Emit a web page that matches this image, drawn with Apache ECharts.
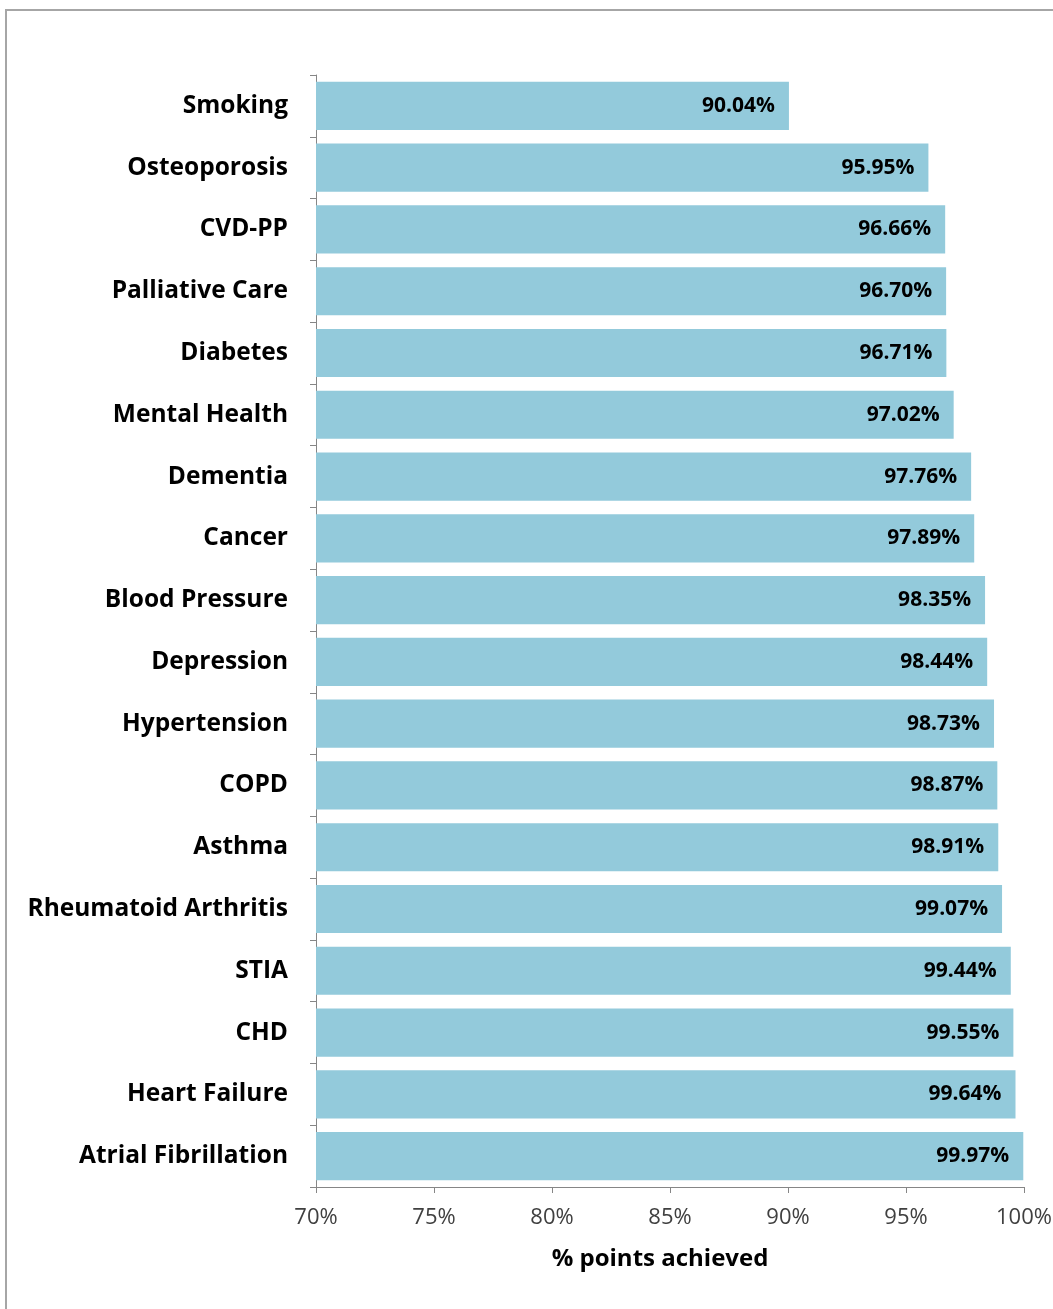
<!DOCTYPE html>
<html>
<head>
<meta charset="utf-8">
<script src="https://cdn.jsdelivr.net/npm/echarts@6/dist/echarts.min.js"></script>
<style>
  html, body { margin: 0; padding: 0; background: #fff; }
  #chart { width: 1053px; height: 1309px; }
</style>
</head>
<body>
<div id="chart"></div>
<script>
// domains, top to bottom
const domains = [
  'Smoking', 'Osteoporosis', 'CVD-PP', 'Palliative Care', 'Diabetes',
  'Mental Health', 'Dementia', 'Cancer', 'Blood Pressure', 'Depression',
  'Hypertension', 'COPD', 'Asthma', 'Rheumatoid Arthritis', 'STIA',
  'CHD', 'Heart Failure', 'Atrial Fibrillation'
]
const pointsAchieved = [
  90.04, 95.95, 96.66, 96.70, 96.71,
  97.02, 97.76, 97.89, 98.35, 98.44,
  98.73, 98.87, 98.91, 99.07, 99.44,
  99.55, 99.64, 99.97
]
const xTicks = [70, 75, 80, 85, 90, 95, 100]

const chart = echarts.init(document.getElementById('chart'))
const font = '"Open Sans", "DejaVu Sans", sans-serif'

chart.setOption({
  backgroundColor: '#fff',
  animation: false,
  grid: {
    left: 316, right: 29, top: 75, bottom: 122,
    containLabel: false, outerBoundsMode: 'none'
  },
  graphic: [
    {
      type: 'rect',
      shape: { x: 6, y: 10, width: 1100, height: 1400 },
      style: { fill: 'none', stroke: '#a6a6a6', lineWidth: 2 },
      silent: true
    }
  ],
  xAxis: {
    type: 'value',
    min: xTicks[0],
    max: xTicks[xTicks.length - 1],
    interval: 5,
    name: '% points achieved',
    nameLocation: 'middle',
    nameGap: 60,
    nameTextStyle: {
      fontFamily: font, fontWeight: 'bold', fontSize: 24, color: '#000',
      padding: [0, 20, 0, 0]
    },
    axisLine: { show: true, lineStyle: { color: '#868686', width: 1 } },
    axisTick: { show: true, length: 6, lineStyle: { color: '#868686' } },
    axisLabel: {
      margin: 20,
      fontFamily: font, fontSize: 22, color: '#404040',
      formatter: v => v + '%'
    },
    splitLine: { show: false }
  },
  yAxis: {
    type: 'category',
    inverse: true,
    data: domains,
    axisLine: { show: true, lineStyle: { color: '#868686', width: 1 } },
    axisTick: { show: true, length: 6, lineStyle: { color: '#868686' } },
    axisLabel: {
      margin: 28,
      fontFamily: font, fontWeight: 'bold', fontSize: 24.5, color: '#000'
    }
  },
  series: [
    {
      type: 'bar',
      data: pointsAchieved,
      barCategoryGap: '22%',
      itemStyle: { color: '#93cadb' },
      label: {
        show: true,
        position: 'insideRight',
        distance: 14,
        fontFamily: font, fontWeight: 'bold', fontSize: 21, color: '#000',
        formatter: p => p.value.toFixed(2) + '%'
      }
    }
  ]
})
</script>
</body>
</html>
